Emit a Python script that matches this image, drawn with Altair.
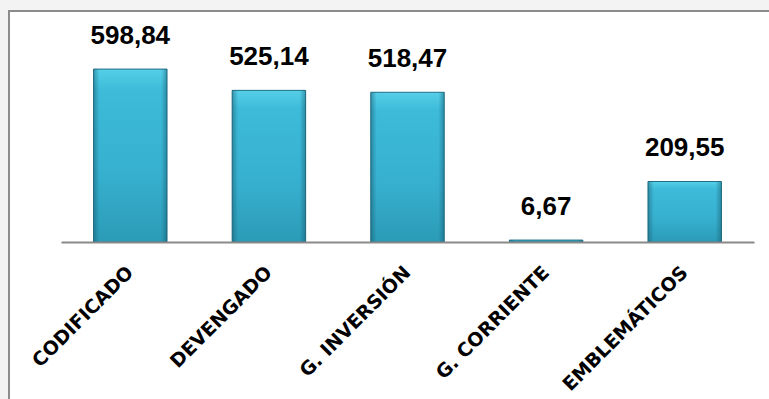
import altair as alt
import pandas as pd

categories = ["CODIFICADO", "DEVENGADO", "G. INVERSIÓN", "G. CORRIENTE", "EMBLEMÁTICOS"]
values = [598.84, 525.14, 518.47, 6.67, 209.55]
labels = ["598,84", "525,14", "518,47", "6,67", "209,55"]

df = pd.DataFrame({"cat": categories, "val": values, "lab": labels})

W, H = 693, 231
LEFT, TOP = 61, 11

x_enc = alt.X("cat:N", sort=categories,
              scale=alt.Scale(paddingInner=0.47, paddingOuter=0.235),
              axis=alt.Axis(title=None, labelAngle=-45, labelAlign="right",
                            labelBaseline="middle", labelPadding=27,
                            labelFont="DejaVu Sans", labelFontWeight="bold",
                            labelFontSize=19, labelColor="#000000", zindex=1,
                            labelLimit=300,
                            ticks=False, domainColor="#8a8a8a", domainWidth=2))
y_scale = alt.Scale(domain=[0, 800], nice=False)

base = alt.Chart(df)

frame = base.mark_rect(fill="#ffffff", stroke="#8c8c8c", strokeWidth=2).encode(
    x=alt.value(-52), x2=alt.value(W + 60), y=alt.value(0), y2=alt.value(H + 200)
).transform_filter(alt.datum.cat == "CODIFICADO")

bars = base.mark_bar(
    stroke="#1f6f85", strokeWidth=1,
    color=alt.Gradient(gradient="linear", x1=0, y1=0, x2=0, y2=1,
                       stops=[alt.GradientStop(color="#56cfe8", offset=0),
                              alt.GradientStop(color="#3dbbd9", offset=0.12),
                              alt.GradientStop(color="#37b0cf", offset=0.6),
                              alt.GradientStop(color="#2b9bb7", offset=1)])
).encode(
    x=x_enc,
    y=alt.Y("val:Q", scale=y_scale, axis=None),
)

edges = base.mark_bar(
    color=alt.Gradient(gradient="linear", x1=0, y1=0, x2=1, y2=0,
                       stops=[alt.GradientStop(color="rgba(20,80,100,0.45)", offset=0),
                              alt.GradientStop(color="rgba(20,80,100,0)", offset=0.08),
                              alt.GradientStop(color="rgba(20,80,100,0)", offset=0.92),
                              alt.GradientStop(color="rgba(20,80,100,0.45)", offset=1)])
).encode(
    x=alt.X("cat:N", sort=categories),
    y=alt.Y("val:Q", scale=y_scale),
)

text = base.mark_text(
    font="Liberation Sans", fontWeight="bold", fontSize=26, color="#000000",
    baseline="alphabetic", dy=-25
).encode(
    x=alt.X("cat:N", sort=categories),
    y=alt.Y("val:Q", scale=y_scale),
    text="lab:N",
)

chart = alt.layer(frame, bars, edges, text).properties(
    width=W, height=H,
    padding={"left": LEFT, "top": TOP, "right": 769 - LEFT - W, "bottom": 399 - TOP - H},
    autosize="none",
    background="#f3f3f3",
).configure_view(stroke=None)

chart.save("out.html", embed_options={"renderer": "svg", "actions": False})
